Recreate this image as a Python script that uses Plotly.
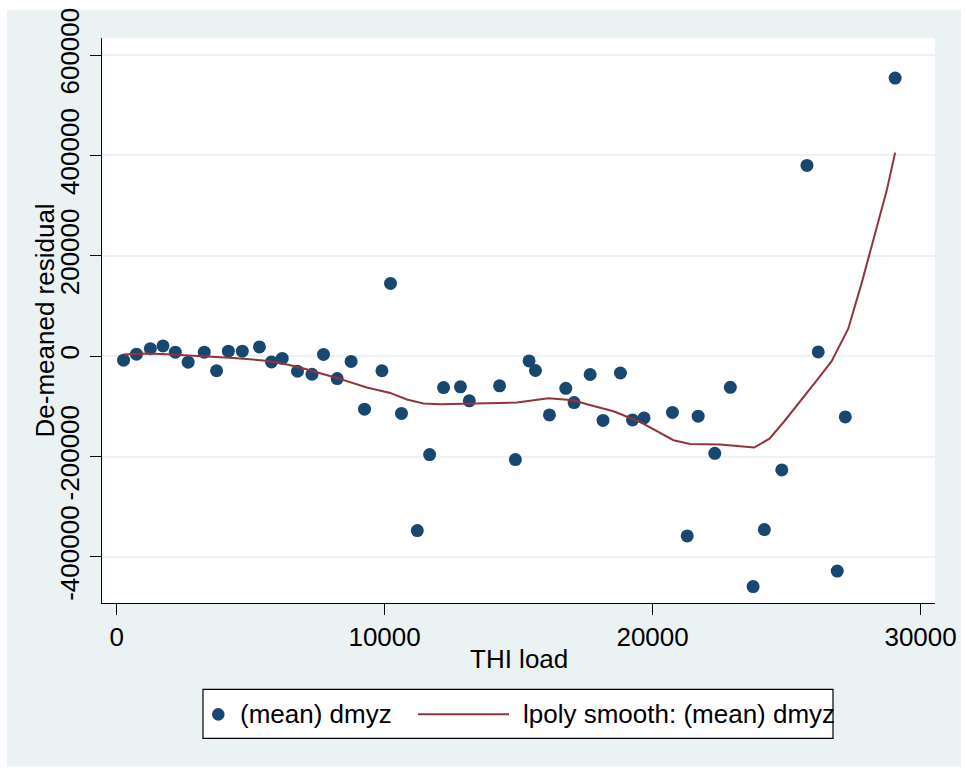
import plotly.graph_objects as go

# ---- data ----
thi_load = [260, 740, 1260, 1730, 2190, 2670, 3270, 3730, 4170, 4690,
            5330, 5780, 6180, 6750, 7290, 7720, 8230, 8750, 9250, 9900,
            10220, 10630, 11220, 11680, 12200, 12830, 13160, 14290, 14880, 15390,
            15630, 16150, 16760, 17070, 17670, 18150, 18800, 19250, 19680, 20740,
            21290, 21700, 22320, 22900, 23750, 24170, 24820, 25760, 26180, 26890,
            27190, 29050]
dmyz = [-8000, 4000, 15000, 20500, 8000, -12000, 8000, -29000, 10000, 10000,
        18500, -11500, -4500, -30000, -36000, 3500, -44500, -10500, -105500, -29000,
        145000, -114000, -347500, -196000, -62500, -61000, -89000, -59000, -206000, -9500,
        -28500, -117000, -64000, -92500, -36500, -128000, -33500, -127000, -123000, -112000,
        -358000, -119500, -193500, -62000, -459000, -345500, -226500, 380000, 8500, -428000,
        -121000, 554000]

smooth_x = [261, 1130, 1880, 3120, 4360, 5480, 6110, 6850, 8090, 9340,
            10210, 10830, 11450, 12070, 13570, 14940, 16110, 17050, 17550, 18540,
            19530, 20780, 21400, 22520, 23790, 24360, 24900, 25500, 26140, 26680,
            27300, 27800, 28110, 28420, 28740, 29050]
smooth_y = [3400, 5400, 4000, 0, -3400, -8600, -13400, -22500, -41300, -62400,
            -73200, -86300, -94300, -95700, -93700, -92300, -83700, -87700, -95700, -109600,
            -131000, -167400, -174800, -176000, -182000, -164400, -130600, -89100, -47200, -10000,
            54800, 145500, 206300, 265100, 330900, 405600]

x_ticks = [0, 10000, 20000, 30000]
x_ticklabels = ["0", "10000", "20000", "30000"]
y_ticks = [-400000, -200000, 0, 200000, 400000, 600000]
y_ticklabels = ["-400000", "-200000", "0", "200000", "400000", "600000"]

series_names = ["(mean) dmyz", "lpoly smooth: (mean) dmyz"]
x_title = "THI load"
y_title = "De-meaned residual"

NAVY = "#1a476f"
MAROON = "#90353b"
BG = "#eaf2f3"
FONT = "Liberation Sans, Arial, sans-serif"

fig = go.Figure()
fig.add_trace(go.Scatter(
    x=thi_load, y=dmyz, mode="markers", name=series_names[0],
    marker=dict(color=NAVY, size=13, line=dict(width=0)),
    showlegend=False,
))
fig.add_trace(go.Scatter(
    x=smooth_x, y=smooth_y, mode="lines", name=series_names[1],
    line=dict(color=MAROON, width=2),
    showlegend=False,
))

# plot area in pixels
L, R, T, B = 102, 935, 38, 602.7
W, H = 966, 768
pw, ph = R - L, B - T


def px_x(px):
    return (px - L) / pw


def px_y(py):
    return (B - py) / ph


# legend geometry (pixels)
LG_L, LG_R, LG_T, LG_B = 203, 833, 689, 738
LG_MID = (LG_T + LG_B) / 2 + 0.5

shapes = [
    # outer light background
    dict(type="rect", xref="paper", yref="paper", layer="below",
         x0=px_x(7), x1=px_x(961), y0=px_y(766), y1=px_y(10),
         fillcolor=BG, line=dict(width=0)),
    # white plot region
    dict(type="rect", xref="paper", yref="paper", layer="below",
         x0=0, x1=1, y0=0, y1=1, fillcolor="white", line=dict(width=0)),
    # legend box
    dict(type="rect", xref="paper", yref="paper", layer="above",
         x0=px_x(LG_L), x1=px_x(LG_R), y0=px_y(LG_B), y1=px_y(LG_T),
         fillcolor="white", line=dict(color="black", width=1.2)),
    # legend marker
    dict(type="circle", xref="paper", yref="paper", layer="above",
         x0=px_x(218.3 - 6.3), x1=px_x(218.3 + 6.3),
         y0=px_y(LG_MID + 6.3), y1=px_y(LG_MID - 6.3),
         fillcolor=NAVY, line=dict(width=0)),
    # legend line
    dict(type="line", xref="paper", yref="paper", layer="above",
         x0=px_x(418), x1=px_x(509), y0=px_y(LG_MID), y1=px_y(LG_MID),
         line=dict(color=MAROON, width=2)),
]

annotations = [
    dict(text=series_names[0], xref="paper", yref="paper",
         x=px_x(238), y=px_y(LG_MID), xanchor="left", yanchor="middle",
         showarrow=False, font=dict(size=26, color="black")),
    dict(text=series_names[1], xref="paper", yref="paper",
         x=px_x(521), y=px_y(LG_MID), xanchor="left", yanchor="middle",
         showarrow=False, font=dict(size=26, color="black")),
    dict(text=y_title, xref="paper", yref="paper",
         x=px_x(44), y=0.5, xanchor="center", yanchor="middle", textangle=-90,
         showarrow=False, font=dict(size=26, color="black")),
    dict(text=x_title, xref="paper", yref="paper",
         x=0.5, y=px_y(659), xanchor="center", yanchor="middle",
         showarrow=False, font=dict(size=26, color="black")),
]

fig.update_layout(
    width=W, height=H,
    margin=dict(l=L, r=W - R, t=T, b=H - B, autoexpand=False),
    paper_bgcolor="white",
    plot_bgcolor="rgba(0,0,0,0)",
    font=dict(family=FONT, size=26, color="black"),
    shapes=shapes,
    annotations=annotations,
    showlegend=False,
    xaxis=dict(
        range=[-545, 30537], tickmode="array", tickvals=x_ticks, ticktext=x_ticklabels,
        ticks="outside", ticklen=11, tickwidth=1.3, tickcolor="black",
        showline=True, linecolor="black", linewidth=1.3,
        showgrid=False, zeroline=False,
        tickfont=dict(size=26),
    ),
    yaxis=dict(
        range=[-491700, 633900], tickmode="array", tickvals=y_ticks, ticktext=y_ticklabels,
        ticks="outside", ticklen=11, tickwidth=1.3, tickcolor="black",
        showline=True, linecolor="black", linewidth=1.3,
        showgrid=True, gridcolor=BG, gridwidth=1.5, zeroline=False,
        tickangle=-90,
        tickfont=dict(size=26),
    ),
)

fig.write_html("out.html", config={"displayModeBar": False},
               post_script="document.body.style.margin='0';")
